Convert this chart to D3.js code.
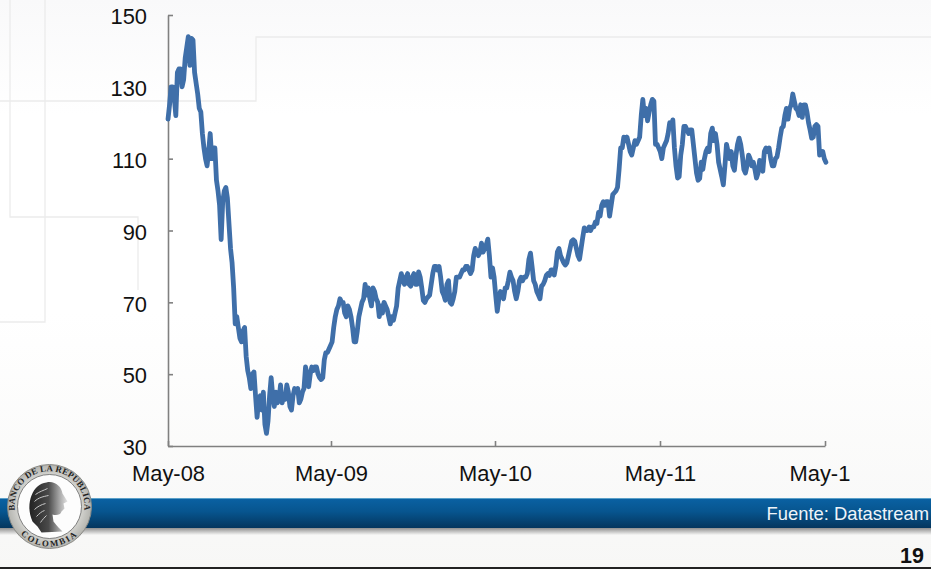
<!DOCTYPE html>
<html lang="es">
<head>
    <meta charset="UTF-8">
    <title>Fuente: Datastream</title>
    <script src="https://d3js.org/d3.v7.min.js"></script>
    <style>
        html, body { margin: 0; padding: 0; background: #fff; overflow: hidden; }
        svg { display: block; }
        text { font-family: 'Liberation Sans', Arial, sans-serif; }
        .axis text { font-size: 21.9px; fill: #111; }
        .axis path, .axis line { stroke: #808080; }
        .deco { fill: none; stroke: #ececec; stroke-width: 1.3; }
        .seal { font-family: 'Liberation Serif', serif; font-size: 8.8px; font-weight: bold; fill: #222; }
    </style>
</head>
<body>
<svg width="931" height="569"></svg>
<script>
// valores cada 3.5 dias desde el 1 de mayo de 2008
const values = [
    121, 125, 130, 130, 127, 122, 134, 135, 135, 130, 132, 138, 141, 144, 136, 143.5, 143, 134, 131, 128,
    124, 123, 117, 113, 110, 108, 112, 117, 110, 113, 113, 104, 101, 97, 87.5, 98, 101, 102, 99, 92,
    85, 81, 74, 64, 66, 63, 60, 59, 62, 63, 55, 51, 49, 46, 50, 50.6, 44, 38, 43, 44,
    40, 45, 36, 33.5, 37, 44, 49, 44, 41, 45, 42, 43, 47, 42, 44, 43, 47, 45, 41, 40,
    44, 46, 45, 46, 42, 43, 45, 46, 52, 50, 46.5, 50, 52, 51, 52, 52, 50, 49, 48.5, 49,
    54, 56, 56, 57, 58, 59, 63, 66, 68, 69, 71, 70, 70, 67, 66, 69, 68, 66, 63, 59,
    59, 62, 66, 68, 70, 71, 75, 72, 74, 71, 69, 74, 73, 71, 70, 66, 69, 67, 70, 69,
    68, 66, 64, 66, 65, 67, 69, 74, 76, 78, 76, 75, 77, 78, 75, 74.5, 77, 78, 75, 75,
    78.5, 77, 74, 70.5, 70, 71, 71.5, 72, 75, 78, 80, 80, 79, 80, 77, 73, 72, 70.6, 75, 76,
    70, 69.5, 71, 73, 77, 77, 77, 78, 79, 79, 80, 80, 79, 78, 79, 83, 85, 84, 83, 84,
    86.5, 84, 85, 86, 87.6, 83, 77, 79.6, 77, 72, 67.5, 71, 73, 72, 71, 74, 74, 76, 78.4, 77,
    76, 73, 71, 73, 76, 77, 76, 77, 77, 78, 82, 83.7, 80, 76, 75, 73, 72, 71, 74.5, 75,
    76, 77.5, 78, 77.5, 79, 79, 77.6, 80, 84, 85, 83, 82, 81, 80.4, 81, 83, 85, 87, 87.4, 87,
    85, 83, 82, 85, 88, 90.7, 90, 90, 91, 90, 91, 91, 92.4, 92, 95, 94, 97, 98, 97, 98,
    98, 94, 97, 100, 100.5, 101, 102, 107, 113, 113, 116, 115, 116, 114, 112, 111, 113, 115, 114, 115,
    116, 122, 126.5, 122, 124, 120.5, 123, 125, 126.5, 126, 114, 114, 113, 112, 110, 113, 114, 115, 117, 120,
    119, 120.8, 113, 108, 104.6, 105, 111, 114, 119, 119, 118, 117, 118, 118, 114, 110, 106, 104, 104.5, 109,
    107, 110, 112, 113, 112, 117, 118.5, 115, 117, 114, 109, 107, 105, 102.7, 108, 114, 112, 110, 112, 108,
    106.8, 111, 114, 115.7, 114, 111, 107, 106, 108, 111, 110, 108, 109, 107, 104.6, 106, 109.5, 108, 106.5, 112,
    113, 112, 113, 110, 108, 108, 110, 110.5, 113, 116, 118.5, 119, 122, 124, 121, 124, 125, 128, 126, 124,
    123.5, 122, 125, 121.5, 125, 125, 123, 120, 118, 115.7, 116, 119, 119.5, 119, 111, 111.5, 112, 110, 109
];
const yTicks = [30, 50, 70, 90, 110, 130, 150];
const xTickYears = [2008, 2009, 2010, 2011, 2012];
const xTickLabels = ["May-08", "May-09", "May-10", "May-11", "May-1"];
const startDate = new Date(2008, 4, 1);
const dates = values.map((v, i) => d3.timeHour.offset(startDate, i * 84));

const svg = d3.select("svg");
const defs = svg.append("defs");

const bg = defs.append("linearGradient").attr("id", "bg").attr("x2", 0).attr("y2", 1);
bg.append("stop").attr("offset", "0").attr("stop-color", "#f9f9fa");
bg.append("stop").attr("offset", "0.2").attr("stop-color", "#ffffff");
bg.append("stop").attr("offset", "0.55").attr("stop-color", "#ffffff");
bg.append("stop").attr("offset", "1").attr("stop-color", "#f7f7f6");
svg.append("rect").attr("width", 931).attr("height", 569).attr("fill", "url(#bg)");

// lineas decorativas del fondo
const deco = [
    "M0,101H256V37H931",
    "M10,0V217H138V290",
    "M45,0V322H0"
];
svg.selectAll(".deco").data(deco).enter().append("path").attr("class", "deco").attr("d", d => d);

// franja azul inferior
const band = defs.append("linearGradient").attr("id", "band").attr("x2", 0).attr("y2", 1);
band.append("stop").attr("offset", "0").attr("stop-color", "#0a62a4");
band.append("stop").attr("offset", "0.45").attr("stop-color", "#07558f");
band.append("stop").attr("offset", "1").attr("stop-color", "#04365e");
const shadow = defs.append("linearGradient").attr("id", "shadow").attr("x2", 0).attr("y2", 1);
shadow.append("stop").attr("offset", "0").attr("stop-color", "#8f8f8f");
shadow.append("stop").attr("offset", "1").attr("stop-color", "#f7f7f6");
svg.append("rect").attr("y", 528).attr("width", 931).attr("height", 7).attr("fill", "url(#shadow)");
svg.append("rect").attr("y", 498).attr("width", 931).attr("height", 30).attr("fill", "url(#band)");
svg.append("rect").attr("y", 498).attr("width", 931).attr("height", 1).attr("fill", "#5aa0c8");
svg.append("rect").attr("y", 567).attr("width", 931).attr("height", 2).attr("fill", "#222");

svg.append("text").attr("x", 929).attr("y", 520).attr("text-anchor", "end")
    .attr("font-size", 18.4).attr("fill", "#eef4f9").text("Fuente: Datastream");
svg.append("text").attr("x", 924).attr("y", 563).attr("text-anchor", "end")
    .attr("font-size", 21.5).attr("font-weight", "bold").attr("fill", "#111").text("19");

// grafico
const xTicks = xTickYears.map(yr => new Date(yr, 4, 1));
const x = d3.scaleTime().domain(xTicks).range([168, 331, 495, 660, 825]);
const y = d3.scaleLinear().domain([30, 150]).range([446, 15]);

const yAxis = svg.append("g").attr("class", "axis").attr("transform", "translate(168,0)")
    .call(d3.axisLeft(y).tickValues(yTicks).tickSizeInner(-5).tickSizeOuter(0).tickPadding(21));
const xAxis = svg.append("g").attr("class", "axis").attr("transform", "translate(0,446)")
    .call(d3.axisBottom(x).tickValues(xTicks).tickSizeInner(-5).tickSizeOuter(0).tickPadding(19)
        .tickFormat((d, i) => xTickLabels[i]));
svg.selectAll(".axis path, .axis line").attr("stroke-width", 1.6);
xAxis.selectAll("text").filter((d, i) => i === 4).attr("text-anchor", "start").attr("dx", -36);
yAxis.selectAll("text").attr("dy", "0.4em");

const line = d3.line().x((d, i) => x(dates[i])).y(d => y(d));
svg.append("path").datum(values)
    .attr("fill", "none").attr("stroke", "#3f6fa9").attr("stroke-width", 4.8)
    .attr("stroke-linejoin", "round").attr("stroke-linecap", "round")
    .attr("d", line);

// escudo del banco
const logo = svg.append("g").attr("transform", "translate(49.5,506.5)");
const ring = defs.append("radialGradient").attr("id", "ring");
ring.append("stop").attr("offset", "0.75").attr("stop-color", "#d4d4d0");
ring.append("stop").attr("offset", "1").attr("stop-color", "#b4b4af");
logo.append("circle").attr("r", 42).attr("fill", "url(#ring)").attr("stroke", "#8a8a86");
logo.append("circle").attr("r", 32).attr("fill", "#fdfdfd").attr("stroke", "#666").attr("stroke-width", 0.8);
defs.append("path").attr("id", "arcTop").attr("d", "M-34,8A35,35 0 1 1 34,8");
defs.append("path").attr("id", "arcBottom").attr("d", "M-32,24A40,40 0 0 0 32,24");
logo.append("text").attr("class", "seal").attr("letter-spacing", 0.2)
    .append("textPath").attr("href", "#arcTop").attr("startOffset", "50%").attr("text-anchor", "middle")
    .text("BANCO DE LA REPUBLICA");
logo.append("text").attr("class", "seal").attr("letter-spacing", 1.8)
    .append("textPath").attr("href", "#arcBottom").attr("startOffset", "50%").attr("text-anchor", "middle")
    .text("COLOMBIA");
const head = defs.append("linearGradient").attr("id", "head");
head.append("stop").attr("offset", "0").attr("stop-color", "#222");
head.append("stop").attr("offset", "0.5").attr("stop-color", "#4a4a4a");
head.append("stop").attr("offset", "0.8").attr("stop-color", "#aaa");
head.append("stop").attr("offset", "1").attr("stop-color", "#e4e4e4");
logo.append("path").attr("fill", "url(#head)")
    .attr("d", "M-3,-24C5,-26 12,-20 13,-13L18,-5L14,-3L15,2L12,5C11,9 6,9 3,8L4,15C8,20 11,23 13,25L-8,26L-12,20L-17,15C-21,6 -21,-3 -18,-11C-15,-19 -10,-23 -3,-24Z");
// rizos y laurel
logo.append("path").attr("fill", "none").attr("stroke", "#c8c8c8").attr("stroke-width", 1)
    .attr("d", "M-14,-12C-10,-15 -6,-16 -2,-18M-15,-5C-11,-9 -6,-10 -1,-11M-15,3C-12,0 -8,-2 -4,-3M-13,10C-10,7 -8,5 -5,4M-9,16C-7,13 -5,11 -3,9");
</script>
</body>
</html>
